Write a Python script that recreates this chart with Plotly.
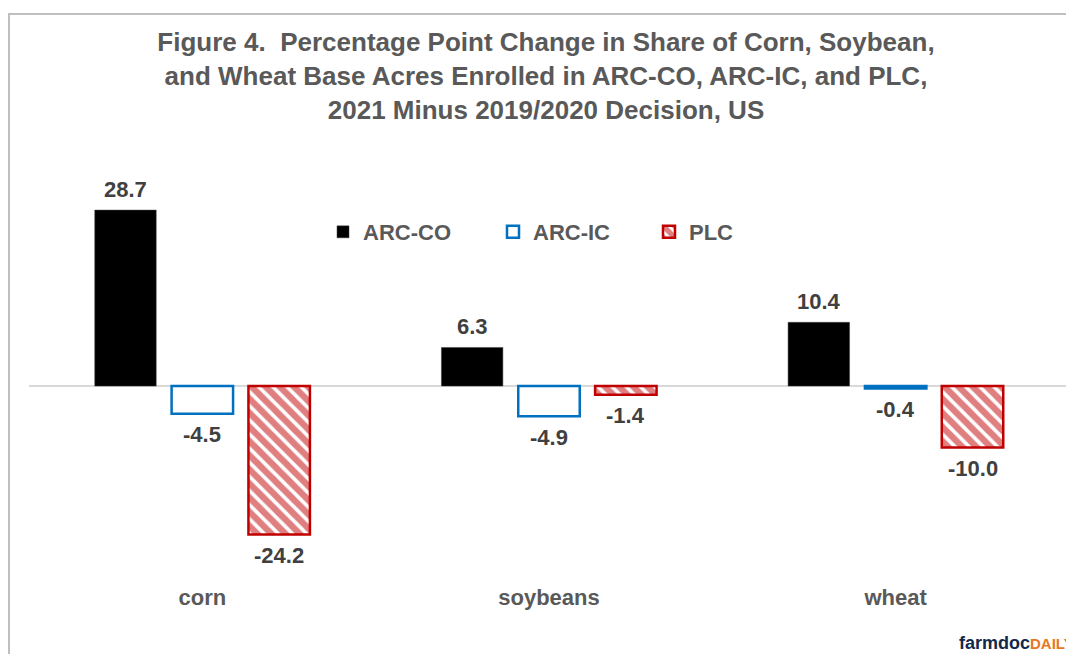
import plotly.graph_objects as go

categories = ["corn", "soybeans", "wheat"]
arc_co = [28.7, 6.3, 10.4]
arc_ic = [-4.5, -4.9, -0.4]
plc = [-24.2, -1.4, -10.0]

FONT = "Liberation Sans, Arial, Helvetica, sans-serif"
GRAY = "#595959"
LABEL = "#404040"

# page has an 8px body margin; figure coords = page coords - 8
OFF = 8
W, H = 1074 - OFF, 654 - OFF
L, R, T, B = 21, 5, 142, 68
PW, PH = W - L - R, H - T - B
Y0, Y1 = -32.6, 38.5

fig = go.Figure()
fig.add_trace(go.Bar(name="ARC-CO", x=categories, y=arc_co,
                     marker=dict(color="#000000", line=dict(color="#404040", width=0.5)),
                     legend="legend"))
fig.add_trace(go.Bar(name="ARC-IC", x=categories, y=arc_ic,
                     marker=dict(color="#FFFFFF", line=dict(color="#0070C0", width=2.5)),
                     legend="legend2"))
fig.add_trace(go.Bar(name="PLC", x=categories, y=plc,
                     marker=dict(color="#FFFFFF", line=dict(color="#C00000", width=2.5),
                                 pattern=dict(shape="\\", fgcolor="#C00000", bgcolor="#FFFFFF",
                                              size=10, solidity=0.65)),
                     legend="legend3"))

# data labels
bargap = 0.335
slot = PW / len(categories) * (1 - bargap) / 3
for si, series in enumerate([arc_co, arc_ic, plc]):
    for cat, v in zip(categories, series):
        fig.add_annotation(x=cat, y=v, text=f"{v:.1f}", showarrow=False,
                           xshift=(si - 1) * slot, yshift=21 if v >= 0 else -21,
                           yanchor="middle", xanchor="center",
                           font=dict(family=FONT, size=22, color=LABEL, weight="bold"))

def px_x(p):  # page px -> paper
    return (p - OFF - L) / PW

def px_y(p):
    return (H - B - (p - OFF)) / PH

# border
fig.add_shape(type="rect", xref="paper", yref="paper",
              x0=px_x(9), x1=px_x(1100), y0=px_y(700), y1=px_y(14),
              line=dict(color="#BFBFBF", width=2), fillcolor="rgba(0,0,0,0)", layer="below")

# logo text
fig.add_annotation(xref="paper", yref="paper", x=px_x(957), y=px_y(643),
                   xanchor="left", yanchor="middle", showarrow=False,
                   text="farmdoc<span style='color:#E87722;font-size:15px'>DAILY</span>",
                   font=dict(family=FONT, size=18, color="#13294B", weight="bold"))

legfont = dict(family=FONT, size=22, color=GRAY, weight="bold")
legcommon = dict(orientation="h", yanchor="middle", xanchor="left", font=legfont,
                 bgcolor="rgba(0,0,0,0)", y=px_y(232))

fig.update_layout(
    width=W, height=H,
    margin=dict(l=L, r=R, t=T, b=B),
    paper_bgcolor="white", plot_bgcolor="white",
    barmode="group", bargap=bargap, bargroupgap=0.2,
    title=dict(text="Figure 4.  Percentage Point Change in Share of Corn, Soybean,<br>"
                    "and Wheat Base Acres Enrolled in ARC-CO, ARC-IC, and PLC,<br>"
                    "2021 Minus 2019/2020 Decision, US",
               x=(546 - OFF) / W, xref="container", xanchor="center",
               y=1 - 43 / H, yref="container", yanchor="top",
               font=dict(family=FONT, size=26, color=GRAY, weight="bold")),
    legend=dict(x=px_x(342 - 19), **legcommon),
    legend2=dict(x=px_x(512 - 19), **legcommon),
    legend3=dict(x=px_x(668 - 19), **legcommon),
    xaxis=dict(showline=False, showgrid=False, ticks="", ticklabelstandoff=-4,
               tickfont=dict(family=FONT, size=22, color=GRAY, weight="bold")),
    yaxis=dict(range=[Y0, Y1], showgrid=False, showticklabels=False, ticks="",
               zeroline=True, zerolinecolor="#D9D9D9", zerolinewidth=2, showline=False),
    showlegend=True,
)

fig.write_html("out.html")
